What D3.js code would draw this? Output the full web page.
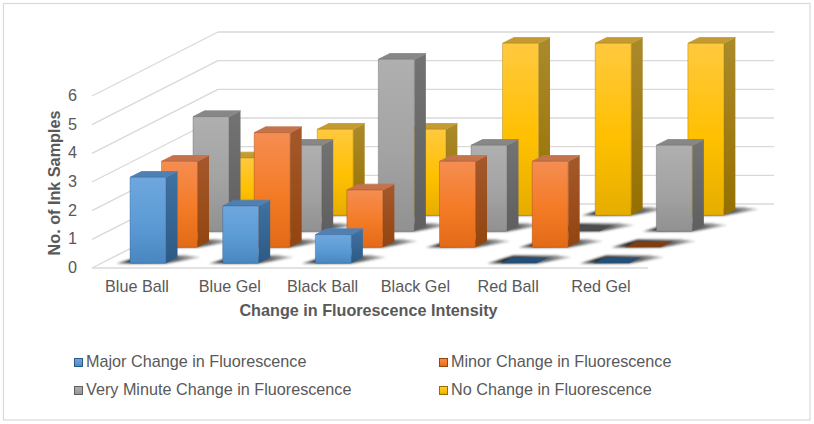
<!DOCTYPE html>
<html>
<head>
<meta charset="utf-8">
<script src="https://cdn.jsdelivr.net/npm/d3@7/dist/d3.min.js"></script>
<style>
  html, body { margin: 0; padding: 0; background: #fff; }
  svg { display: block; }
  text { font-family: "Liberation Sans", Arial, sans-serif; fill: #595959; }
</style>
</head>
<body>
<svg id="chart" width="814" height="424"></svg>
<script>
const categories = ["Blue Ball", "Blue Gel", "Black Ball", "Black Gel", "Red Ball", "Red Gel"];
const seriesNames = [
  "Major Change in Fluorescence",
  "Minor Change in Fluorescence",
  "Very Minute Change in Fluorescence",
  "No Change in Fluorescence"
];
// null marks a sample with no entry, which draws nothing at all
const majorChange = [3, 2, 1, null, 0, 0];
const minorChange = [3, 4, 2, 3, 3, 0];
const veryMinuteChange = [4, 3, 6, 3, 0, 3];
const noChange = [2, 3, 3, 6, 6, 6];
const seriesValues = [majorChange, minorChange, veryMinuteChange, noChange];
const valueTicks = [0, 1, 2, 3, 4, 5, 6];

const palette = [
  { light: "#6fa7de", mid: "#5b9bd5", dark: "#4a86bf", sideA: "#3f72a2", sideB: "#2d5a85", top: "#4f80b3", flat: "#264f78" },
  { light: "#f58d52", mid: "#f47b26", dark: "#e36a16", sideA: "#a5582b", sideB: "#93450f", top: "#c4734a", flat: "#7f3d12" },
  { light: "#afafaf", mid: "#a3a3a3", dark: "#919191", sideA: "#737373", sideB: "#5f5f5f", top: "#878787", flat: "#4d4d4d" },
  { light: "#ffc93f", mid: "#ffc000", dark: "#e6ad00", sideA: "#ab8a2b", sideB: "#957000", top: "#c49b30", flat: "#8a6a00" }
];

const svg = d3.select("#chart");
const defs = svg.append("defs");

// Oblique projection: depth runs up and to the right of the floor's front edge.
const floorFront = { left: 92, right: 648, y: 268 };
const wallShift = { x: 126, y: -64 };
const xScale = d3.scaleBand().domain(d3.range(categories.length))
  .range([floorFront.left + 0.5, floorFront.right + 0.5]).paddingInner(0.61).paddingOuter(0.305);
const depthScale = d3.scaleBand().domain(d3.range(seriesNames.length)).range([0, 1]);
const yScale = d3.scaleLinear().domain([0, 6]).range([0, 172]);

const barWidth = 36;
const barDepth = { x: 11.5, y: -5.8 };
const project = (x, depth, h) => [x + wallShift.x * depth, floorFront.y + wallShift.y * depth - h];
const poly = pts => pts.map(p => p.map(v => v.toFixed(2)).join(",")).join(" ");

palette.forEach((c, i) => {
  const front = defs.append("linearGradient").attr("id", `front${i}`)
    .attr("x1", 0).attr("y1", 0).attr("x2", 0).attr("y2", 1);
  [[0, c.light], [0.55, c.mid], [1, c.dark]].forEach(([o, col]) =>
    front.append("stop").attr("offset", o).attr("stop-color", col));
  const side = defs.append("linearGradient").attr("id", `side${i}`)
    .attr("x1", 0).attr("y1", 0).attr("x2", 0).attr("y2", 1);
  [[0, c.sideA], [1, c.sideB]].forEach(([o, col]) =>
    side.append("stop").attr("offset", o).attr("stop-color", col));
});
const soft = defs.append("filter").attr("id", "soft")
  .attr("filterUnits", "userSpaceOnUse").attr("x", 0).attr("y", 0).attr("width", 814).attr("height", 424);
soft.append("feGaussianBlur").attr("stdDeviation", 0.9);
const shadowFade = defs.append("linearGradient").attr("id", "shadowFade");
[[0, 0.6], [0.2, 1], [0.72, 0.7], [1, 0.2]].forEach(([o, a]) =>
  shadowFade.append("stop").attr("offset", o).attr("stop-color", "#262626").attr("stop-opacity", a));

// Outer frame
svg.append("rect").attr("x", 3.5).attr("y", 3.5).attr("width", 806.5).attr("height", 416.5)
  .attr("fill", "#fff").attr("stroke", "#d9d9d9").attr("stroke-width", 1.2);

// Back wall gridlines and the matching lines on the side wall
const grid = svg.append("g").attr("fill", "none").attr("stroke", "#d9d9d9").attr("stroke-width", 1.4);
const wallRight = floorFront.right + wallShift.x;
valueTicks.forEach(t => {
  const [lx, ly] = project(floorFront.left, 0, yScale(t));
  const [bx, by] = project(floorFront.left, 1, yScale(t));
  grid.append("line").attr("x1", lx).attr("y1", ly).attr("x2", bx).attr("y2", by);
  grid.append("line").attr("x1", bx).attr("y1", by).attr("x2", wallRight).attr("y2", by);
});
grid.append("line").attr("x1", floorFront.left).attr("y1", floorFront.y)
  .attr("x2", floorFront.right).attr("y2", floorFront.y).attr("stroke-width", 1.6);

// Bars, drawn from the back row forward so nearer bars cover farther ones
const barsLayer = svg.append("g");
d3.range(seriesNames.length).reverse().forEach(s => {
  const c = palette[s];
  const depth = depthScale(s) + 0.0735;
  const row = barsLayer.append("g");
  row.selectAll("g").data(seriesValues[s]).join("g").each(function (v, k) {
    if (v === null) return;
    const g = d3.select(this);
    const x0 = xScale(k);
    const w = barWidth;
    const h = yScale(v);
    const P = (dx, dd, hh) => {
      const [px, py] = project(x0, depth, hh);
      return [px + dx + barDepth.x * dd, py + barDepth.y * dd];
    };
    // Cast shadow on the floor
    g.append("polygon")
      .attr("points", poly([P(-13, -0.05, 0), P(w + 1, -0.05, 0), P(w + 23, 1.05, 0), P(w + 5, 1.35, 0), P(-3, 1.35, 0)]))
      .attr("fill", "url(#shadowFade)").attr("filter", "url(#soft)");
    if (v === 0) {
      g.append("polygon")
        .attr("points", poly([P(0, 0, 0), P(w, 0, 0), P(w, 1, 0), P(0, 1, 0)]))
        .attr("fill", c.flat);
      return;
    }
    g.append("polygon").attr("points", poly([P(w, 0, 0), P(w, 1, 0), P(w, 1, h), P(w, 0, h)]))
      .attr("fill", `url(#side${s})`);
    g.append("polygon").attr("points", poly([P(0, 0, h), P(w, 0, h), P(w, 1, h), P(0, 1, h)]))
      .attr("fill", c.top).attr("stroke", c.top).attr("stroke-width", 0.8).attr("stroke-linejoin", "round");
    const [fx, fy] = P(0, 0, h);
    g.append("rect").attr("x", fx).attr("y", fy).attr("width", w).attr("height", h).attr("rx", 0.8)
      .attr("fill", `url(#front${s})`).attr("stroke", c.sideB).attr("stroke-opacity", 0.55).attr("stroke-width", 0.7);
  });
});

// Value axis labels
svg.append("g").selectAll("text").data(valueTicks).join("text")
  .attr("x", 72.5).attr("y", t => floorFront.y - yScale(t) + 5)
  .attr("text-anchor", "middle").attr("font-size", 16.2).text(t => t);

// Category labels
const labelScale = d3.scalePoint().domain(categories).range([137, 601]);
svg.append("g").selectAll("text").data(categories).join("text")
  .attr("x", d => labelScale(d)).attr("y", 292)
  .attr("text-anchor", "middle").attr("font-size", 16.2).text(d => d);

// Axis titles
svg.append("text").attr("x", 368.5).attr("y", 316).attr("text-anchor", "middle")
  .attr("font-size", 16.2).attr("font-weight", "bold").text("Change in Fluorescence Intensity");
svg.append("text").attr("transform", "translate(59.5,183) rotate(-90)").attr("text-anchor", "middle")
  .attr("font-size", 16.2).attr("font-weight", "bold").text("No. of Ink Samples");

// Legend
const legendX = d3.scalePoint().domain([0, 1]).range([74, 439]);
const legendY = d3.scalePoint().domain([0, 1]).range([361, 389]);
const legend = svg.append("g").selectAll("g").data(seriesNames).join("g")
  .attr("transform", (d, i) => `translate(${legendX(i % 2)},${legendY(Math.floor(i / 2))})`);
legend.append("rect").attr("x", 0.5).attr("y", -2.5).attr("width", 8).attr("height", 8)
  .attr("fill", (d, i) => `url(#front${i})`).attr("stroke", (d, i) => palette[i].sideB).attr("stroke-width", 1);
legend.append("text").attr("x", 12).attr("y", 6).attr("font-size", 16.2).text(d => d);
</script>
</body>
</html>
